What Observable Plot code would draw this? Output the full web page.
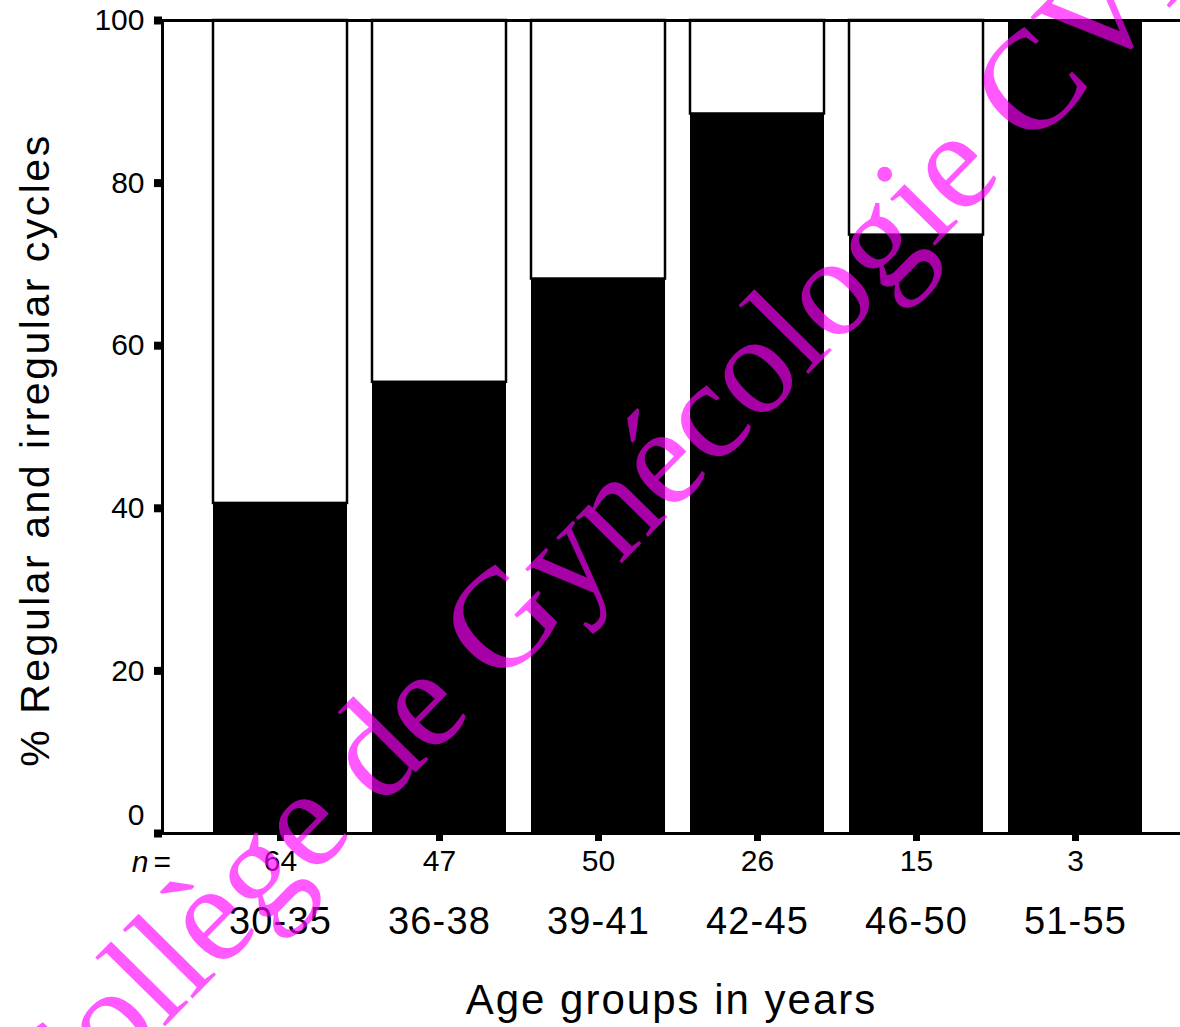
<!DOCTYPE html>
<html><head><meta charset="utf-8">
<script src="https://cdn.jsdelivr.net/npm/d3@7"></script>
<script src="https://cdn.jsdelivr.net/npm/@observablehq/plot@0.6"></script>
<style>
html,body{margin:0;padding:0;background:#fff;overflow:hidden;}
#chart{width:1180px;height:1027px;overflow:hidden;}
</style></head><body><div id="chart"></div>
<script>
const ageGroups = ["30-35", "36-38", "39-41", "42-45", "46-50", "51-55"];
const nValues = [64, 47, 50, 26, 15, 3];
const irregularPct = [40.6, 55.5, 68.2, 88.5, 73.6, 100];
const regularPct = [59.4, 44.5, 31.8, 11.5, 26.4, 0];
const yTicks = [0, 20, 40, 60, 80, 100];
const yLabel = "% Regular and irregular cycles";
const xLabel = "Age groups in years";
const nPrefix = "n";
const watermark = "Collège de Gynécologie CVL";

const table = ageGroups.map((a, i) => ({age: a, n: nValues[i], irr: irregularPct[i], reg: regularPct[i]}));
const sans = "'Liberation Sans', Arial, Helvetica, sans-serif";

const chart = Plot.plot({
  width: 1180, height: 1027,
  marginLeft: 162, marginRight: 0, marginTop: 20, marginBottom: 194,
  style: {background: "#fff", fontFamily: sans, color: "#000"},
  x: {type: "band", domain: ageGroups, range: [162, 1193], paddingInner: 0.157, paddingOuter: 0.318, axis: null},
  y: {domain: [0, 100], axis: null},
  marks: [
    Plot.barY(table, {x: "age", y1: "irr", y2: d => d.irr + d.reg, fill: "#fff", stroke: "#000", strokeWidth: 2.5}),
    Plot.barY(table, {x: "age", y: "irr", fill: "#000"}),
    Plot.ruleY([0, 100], {strokeWidth: 3}),
    Plot.frame({anchor: "left", strokeWidth: 3}),
    Plot.axisY(yTicks, {tickSize: 8, strokeWidth: 8, tickFormat: () => "", label: null}),
    Plot.axisY(yTicks.filter(d => d > 0), {tickSize: 0, tickPadding: 18, fontSize: 30, label: null}),
    Plot.axisY(yTicks.filter(d => d === 0), {tickSize: 0, tickPadding: 18, fontSize: 30, dy: -18, label: null}),
    Plot.axisX({tickSize: 8, strokeWidth: 7, tickPadding: 8, fontSize: 30, label: null,
      tickFormat: d => nValues[ageGroups.indexOf(d)]}),
    Plot.axisX({tickSize: 0, tickPadding: 74, fontSize: 38, label: null}),
    Plot.text([nPrefix], {text: d => d, frameAnchor: "bottom-left", dx: -14, dy: 29, fontSize: 30, fontStyle: "italic", textAnchor: "end", lineAnchor: "middle"}),
    Plot.text(["="], {text: d => d, frameAnchor: "bottom-left", dx: -9, dy: 29, fontSize: 30, textAnchor: "start", lineAnchor: "middle"}),
    Plot.text([xLabel], {text: d => d, frameAnchor: "bottom", dy: 167, fontSize: 42, lineAnchor: "middle"}),
    Plot.text([yLabel], {text: d => d, frameAnchor: "left", dx: -127, dy: 23, rotate: -90, fontSize: 41, textAnchor: "middle", lineAnchor: "middle"}),
    Plot.text([watermark], {text: d => d, frameAnchor: "top-left", dx: 47 - 162, dy: 1145 - 20, rotate: -45.4, fontSize: 141,
      fontFamily: "'Liberation Serif', 'Times New Roman', serif", fill: "#ff00ff", fillOpacity: 0.65,
      textAnchor: "start", lineAnchor: "bottom"})
  ]
});
const sel = d3.select(chart).selectAll("text");
sel.filter(function() { return this.textContent === xLabel; }).style("letter-spacing", "2px");
sel.filter(function() { return this.textContent === yLabel; }).style("letter-spacing", "2.5px");
sel.filter(function() { return ageGroups.includes(this.textContent); }).style("letter-spacing", "1.2px");
document.getElementById("chart").append(chart);
</script></body></html>
